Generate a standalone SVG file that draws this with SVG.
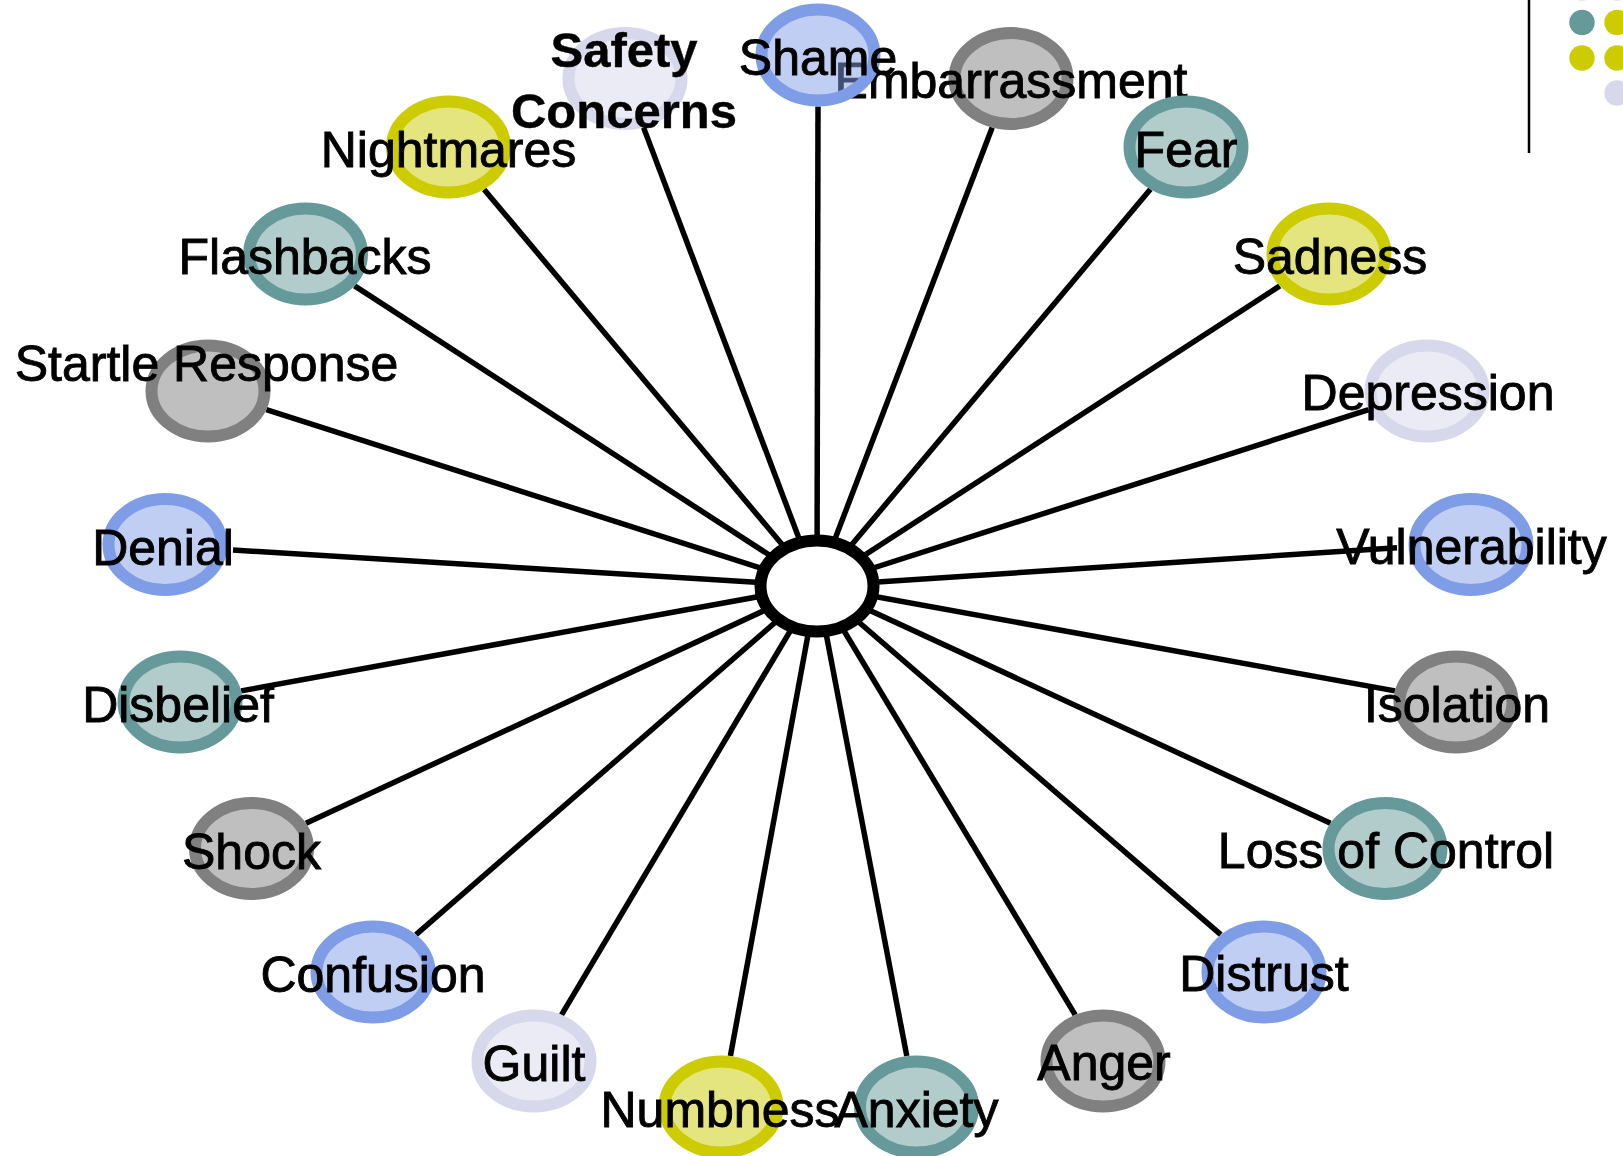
<svg xmlns="http://www.w3.org/2000/svg" width="1623" height="1156" viewBox="0 0 1623 1156">
<style>
.bg{fill:#ffffff}
.n ellipse{stroke-width:12;fill-opacity:0.5}
.blue ellipse{fill:#7f9de6;stroke:#7f9de6}
.gray ellipse{fill:#808080;stroke:#808080}
.teal ellipse{fill:#669999;stroke:#669999}
.yel ellipse{fill:#cccc00;stroke:#cccc00}
.lav ellipse{fill:#d8d8ec;stroke:#d8d8ec}
.n text{font-family:"Liberation Sans",Arial,sans-serif;font-size:50px;fill:#000;stroke:#000;stroke-width:0.9;text-anchor:middle}
.n text.b{font-weight:bold;font-size:49px;stroke-width:0.4}
#connectors line{stroke:#000;stroke-width:5.5}
</style>
<rect class="bg" x="0" y="0" width="1623" height="1156"/>
<g id="decor">
<line x1="1529" y1="0" x2="1529" y2="153" stroke="#000" stroke-width="2.5"/>
<circle cx="1582" cy="-12" r="12.7" fill="#d8d8ec"/>
<circle cx="1617" cy="-12" r="12.7" fill="#d8d8ec"/>
<circle cx="1582" cy="22.5" r="12.7" fill="#669999"/>
<circle cx="1617" cy="22.5" r="12.7" fill="#cccc00"/>
<circle cx="1582" cy="58" r="12.7" fill="#cccc00"/>
<circle cx="1617" cy="58" r="12.7" fill="#cccc00"/>
<circle cx="1617" cy="93" r="12.7" fill="#d8d8ec"/>
</g>
<g id="connectors">
<line x1="817" y1="586" x2="818" y2="106.5"/>
<line x1="817" y1="586" x2="992.2" y2="127.6"/>
<line x1="817" y1="586" x2="1150.4" y2="189.3"/>
<line x1="817" y1="586" x2="1279.8" y2="285.9"/>
<line x1="817" y1="586" x2="1368.7" y2="409.6"/>
<line x1="817" y1="586" x2="1397" y2="547.7"/>
<line x1="817" y1="586" x2="1395" y2="690.9"/>
<line x1="817" y1="586" x2="1330.5" y2="823.3"/>
<line x1="817" y1="586" x2="1220.8" y2="934.7"/>
<line x1="817" y1="586" x2="1075.2" y2="1014.9"/>
<line x1="817" y1="586" x2="906.8" y2="1056.1"/>
<line x1="817" y1="586" x2="730.4" y2="1056.1"/>
<line x1="817" y1="586" x2="561.5" y2="1014.8"/>
<line x1="817" y1="586" x2="416" y2="934.6"/>
<line x1="817" y1="586" x2="306" y2="823.2"/>
<line x1="817" y1="586" x2="241.1" y2="690.9"/>
<line x1="817" y1="586" x2="233" y2="550"/>
<line x1="817" y1="586" x2="266.3" y2="409.7"/>
<line x1="817" y1="586" x2="354.6" y2="285.9"/>
<line x1="817" y1="586" x2="484.1" y2="189.4"/>
<line x1="817" y1="586" x2="643.6" y2="127.6"/>
</g>
<g id="center">
<ellipse cx="817" cy="586" rx="56.5" ry="45.5" fill="#ffffff" stroke="#000000" stroke-width="12"/>
</g>
<g id="embarrassment" class="n gray"><ellipse cx="1011" cy="78.5" rx="56.5" ry="45.5"/><text x="1011" y="98">Embarrassment</text></g>
<g id="fear" class="n teal"><ellipse cx="1186" cy="147" rx="56.5" ry="45.5"/><text x="1186" y="166.5">Fear</text></g>
<g id="sadness" class="n yel"><ellipse cx="1329" cy="254" rx="56.5" ry="45.5"/><text x="1330" y="273.5">Sadness</text></g>
<g id="depression" class="n lav"><ellipse cx="1427" cy="391" rx="56.5" ry="45.5"/><text x="1428" y="410">Depression</text></g>
<g id="vulnerability" class="n blue"><ellipse cx="1471" cy="544.5" rx="56.5" ry="45.5"/><text x="1471.5" y="564">Vulnerability</text></g>
<g id="isolation" class="n gray"><ellipse cx="1456" cy="702" rx="56.5" ry="45.5"/><text x="1457" y="721.5">Isolation</text></g>
<g id="loss-of-control" class="n teal"><ellipse cx="1385" cy="848.5" rx="56.5" ry="45.5"/><text x="1386" y="867.5">Loss of Control</text></g>
<g id="distrust" class="n blue"><ellipse cx="1264" cy="972" rx="56.5" ry="45.5"/><text x="1264" y="990.5">Distrust</text></g>
<g id="anger" class="n gray"><ellipse cx="1103" cy="1061" rx="56.5" ry="45.5"/><text x="1104" y="1080">Anger</text></g>
<g id="anxiety" class="n teal"><ellipse cx="916.5" cy="1107" rx="56.5" ry="45.5"/><text x="916.5" y="1126.5">Anxiety</text></g>
<g id="numbness" class="n yel"><ellipse cx="721" cy="1107" rx="56.5" ry="45.5"/><text x="720" y="1126.5">Numbness</text></g>
<g id="guilt" class="n lav"><ellipse cx="534" cy="1061" rx="56.5" ry="45.5"/><text x="534" y="1081">Guilt</text></g>
<g id="confusion" class="n blue"><ellipse cx="373" cy="972" rx="56.5" ry="45.5"/><text x="373" y="991.5">Confusion</text></g>
<g id="shock" class="n gray"><ellipse cx="251.5" cy="848.5" rx="56.5" ry="45.5"/><text x="251.5" y="869">Shock</text></g>
<g id="disbelief" class="n teal"><ellipse cx="180" cy="702" rx="56.5" ry="45.5"/><text x="178" y="721.5">Disbelief</text></g>
<g id="denial" class="n blue"><ellipse cx="165" cy="544.5" rx="56.5" ry="45.5"/><text x="163" y="564.5">Denial</text></g>
<g id="startle-response" class="n gray"><ellipse cx="208" cy="391" rx="56.5" ry="45.5"/><text x="206.5" y="381">Startle Response</text></g>
<g id="flashbacks" class="n teal"><ellipse cx="305.5" cy="254" rx="56.5" ry="45.5"/><text x="305" y="274">Flashbacks</text></g>
<g id="nightmares" class="n yel"><ellipse cx="448.5" cy="147" rx="56.5" ry="45.5"/><text x="448.5" y="166.5">Nightmares</text></g>
<g id="safety-concerns" class="n lav"><ellipse cx="625" cy="78.5" rx="56.5" ry="45.5"/><text class="b" x="624" y="67">Safety</text><text class="b" x="624" y="128">Concerns</text></g>
<g id="shame" class="n blue"><ellipse cx="818" cy="55" rx="56.5" ry="45.5"/><text x="818" y="75">Shame</text></g>
</svg>
